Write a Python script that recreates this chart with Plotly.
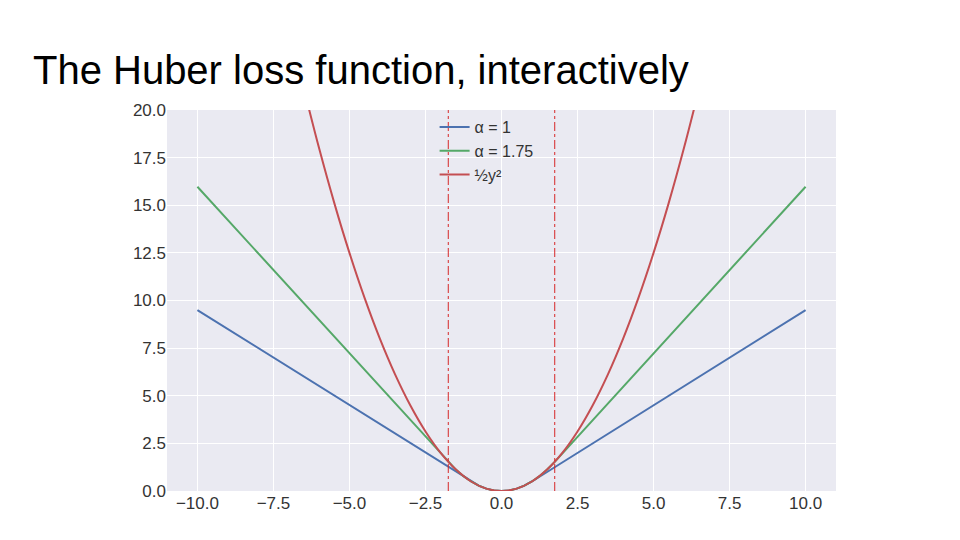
import plotly.graph_objects as go

# Huber loss, alpha = 1
x_a1 = [-10, -1, -0.75, -0.5, -0.25, 0, 0.25, 0.5, 0.75, 1, 10]
y_a1 = [9.5, 0.5, 0.28125, 0.125, 0.03125, 0, 0.03125, 0.125, 0.28125, 0.5, 9.5]

# Huber loss, alpha = 1.75
x_a175 = [-10, -1.75, -1.5, -1.25, -1, -0.75, -0.5, -0.25, 0,
          0.25, 0.5, 0.75, 1, 1.25, 1.5, 1.75, 10]
y_a175 = [15.97, 1.53, 1.125, 0.78, 0.5, 0.28, 0.125, 0.03, 0,
          0.03, 0.125, 0.28, 0.5, 0.78, 1.125, 1.53, 15.97]

# 1/2 y^2
x_sq = [-6.5, -6, -5.5, -5, -4.5, -4, -3.5, -3, -2.5, -2, -1.5, -1, -0.5, 0,
        0.5, 1, 1.5, 2, 2.5, 3, 3.5, 4, 4.5, 5, 5.5, 6, 6.5]
y_sq = [21.125, 18, 15.125, 12.5, 10.125, 8, 6.125, 4.5, 3.125, 2, 1.125, 0.5, 0.125, 0,
        0.125, 0.5, 1.125, 2, 3.125, 4.5, 6.125, 8, 10.125, 12.5, 15.125, 18, 21.125]

alpha_lines = [-1.75, 1.75]

fig = go.Figure()
fig.add_trace(go.Scatter(x=x_a1, y=y_a1, mode="lines", name="α = 1",
                         line=dict(color="#4C72B0", width=2)))
fig.add_trace(go.Scatter(x=x_a175, y=y_a175, mode="lines", name="α = 1.75",
                         line=dict(color="#55A868", width=2)))
fig.add_trace(go.Scatter(x=x_sq, y=y_sq, mode="lines", name="½y²",
                         line=dict(color="#C44E52", width=2, shape="spline")))

for a in alpha_lines:
    fig.add_vline(x=a, line=dict(color="#D62728", width=1, dash="dashdot"))

fig.update_layout(
    width=960, height=540,
    paper_bgcolor="white", plot_bgcolor="#EAEAF2",
    margin=dict(l=159, r=132, t=102, b=57),
    font=dict(family="Liberation Sans, Arial, sans-serif", size=17, color="#333333"),
    title=dict(text="The Huber loss function, interactively", x=0.026, y=0.885,
               xanchor="left", yanchor="middle",
               font=dict(size=40, color="black")),
    legend=dict(x=0.4, y=1, xanchor="left", yanchor="top",
                bgcolor="rgba(0,0,0,0)", font=dict(size=16, color="#333333")),
    xaxis=dict(range=[-11, 11], tickvals=[-10, -7.5, -5, -2.5, 0, 2.5, 5, 7.5, 10],
               ticktext=["−10.0", "−7.5", "−5.0", "−2.5", "0.0", "2.5", "5.0", "7.5", "10.0"],
               gridcolor="white", zeroline=False, showline=False, ticks=""),
    yaxis=dict(range=[0, 20], dtick=2.5, tickformat=".1f",
               gridcolor="white", zeroline=False, showline=False, ticks=""),
)

fig.write_html("out.html")
